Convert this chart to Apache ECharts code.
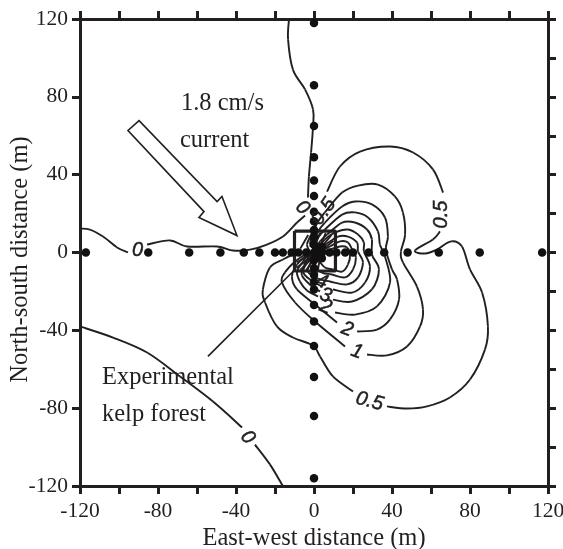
<!DOCTYPE html>
<html><head><meta charset="utf-8">
<style>html,body{margin:0;padding:0;background:#fff}#c{width:563px;height:549px}</style>
<script src="https://cdn.jsdelivr.net/npm/echarts@6/dist/echarts.min.js"></script>
</head><body><div id="c"></div>
<script>
const xTitle = 'East-west distance (m)';
const yTitle = 'North-south distance (m)';
const rowStations = [-117,-85,-64,-48,-36,-28,-20,-16,-11.5,-8,-4,0,4,8,11.5,16,20,28,36,48,64,85,117];
const colStations = [118,86,65,49,37,29,21,16,11.5,8,4,-4,-8,-11.5,-15,-19,-27,-35.5,-48,-64,-84,-116];
const coreStations = [[1,0],[4,0],[1,-3],[4,-3],[1,3],[4,3]];

const zeroA = [[-120,12.3],[-114.9,11.8],[-108.2,8.2],[-101,2.6],[-95.4,0]];
const zeroB = [[-85.6,4.1],[-73.8,6.2],[-65.1,3.1],[-49.7,3.1],[-41.5,1],[-32.8,1.5],[-24.1,4.1],[-15.9,8.2],[-8.7,15.4],[-4.6,19]];
const zeroC = [[-3.1,28.3],[-2.6,39.1],[-1.5,51.4],[-0.5,64.7],[-0.5,73.5],[-4.6,83.8],[-10.8,94],[-13.3,109.5],[-12.8,120]];
const zeroD = [[-120,-38],[-103.1,-43.7],[-85.6,-51.4],[-68.7,-63.7],[-51.8,-76.6],[-36.9,-89.9]];
const zeroE = [[-30.3,-98.7],[-22.6,-108.9],[-16,-120]];
const halfA = [[6.7,31.3],[13.3,44.2],[23.6,51.9],[39,54.5],[50.8,51.4],[61,42.7],[66.2,30.8]];
const halfB = [[64.6,10.8],[61,6.7],[51.8,1],[56.9,-0.5],[63,1.5],[70.3,5.7],[75.9,3.1],[80,-8.7],[86.2,-20.6],[89.2,-38],[87.7,-49.8],[80,-65.3],[69.7,-74.5],[57.9,-79.1],[47.7,-80.2],[37.4,-79.1]];
const halfC = [[20,-71.4],[9.7,-63.7],[3.1,-53.4],[-0.5,-47.8],[-10.8,-43.7],[-19,-38],[-25.1,-25.7],[-26.2,-19],[-22.6,-7.7],[-15.9,-3.6],[-9.7,-0.5],[-4.6,0]];
const halfD = [[0.5,14.4],[-1.5,9.2],[-3.6,4.1],[-2.1,0.5]];
const oneA = [[-2.1,4.1],[-1,9.2],[2.1,15.9],[5.6,20.6],[14.4,30.8],[22.6,34.4],[32.8,34.9],[41.5,28.8],[45.6,20.6],[46.7,9.2],[44.6,0.5],[45.6,-5.1],[52.8,-17.5],[55.9,-29.3],[54.4,-38],[47.7,-48.3],[37.4,-52.9],[27.2,-52.4]];
const oneB = [[15.9,-48.3],[0.5,-35.5],[-9.7,-25.7],[-16.4,-15.4],[-14.9,-10.3],[-9.7,-4.6],[-4.6,-1]];
const twoA = [[-0.5,4.1],[2.1,10.8],[5.6,15.4],[14.4,23.6],[21,26.2],[29.7,24.7],[36.4,18],[37.9,8.2],[36.9,1.5],[40,-8.7],[42.6,-13.9],[43.6,-24.2],[39,-34.4],[32.3,-39.6],[22.1,-40.6]];
const twoB = [[11.8,-36],[0.5,-26.7],[-8.7,-19],[-11.3,-12.3],[-8.7,-6.2],[-4.1,-1.5]];
const threeA = [[0,2.6],[2.1,7.7],[5.6,11.8],[14.4,19.5],[21,20.6],[27.7,18],[32.8,10.8],[33.8,4.1],[36.4,-2.1],[39,-15.4],[32.3,-27.7],[21,-31.9],[10.8,-30.8]];
const threeB = [[2.1,-22.6],[-3.6,-19.5],[-7.2,-14.9],[-8.7,-9.8],[-5.6,-4.6],[-3.1,-1.5]];
const fourA = [[0.5,1.5],[3.1,5.7],[6.7,9.2],[14.4,15.4],[21,15.4],[27.2,11.8],[29.7,6.7],[29.7,-1],[33.3,-8.7],[29.7,-19],[19.5,-25.2],[9.7,-24.2]];
const fourB = [[3.1,-20],[-1,-17.5],[-6.2,-11.8],[-5.1,-6.7],[-2.1,-1.5]];
const fiveA = [[1,1],[5.6,6.7],[10.8,10.3],[17.4,11.8],[22.6,9.2],[25.6,5.1],[25.6,0.5],[28.7,-7.2],[26.2,-15.4],[19.5,-20.6],[9.7,-19]];
const fiveB = [[4.1,-17.5],[-2.1,-13.9],[-5.6,-9.8],[-3.1,-4.6],[-1,-1.5]];
const six = [[1.5,0.5],[6.7,4.6],[12.3,8.2],[17.4,8.2],[22.1,5.1],[22.6,0.5],[25.1,-5.1],[22.6,-12.8],[16.9,-16.4],[8.2,-14.9],[2.1,-13.4],[-3.1,-9.8],[-1.5,-4.6],[-0.5,-1.5]];
const seven = [[2.1,0],[8.2,3.1],[13.3,5.7],[17.4,5.1],[20,0.5],[21.5,-2.6],[20,-8.7],[15.9,-12.8],[9.2,-11.3],[4.1,-10.3],[0,-6.7],[0,-1.5]];
const eight = [[2.6,0],[8.2,1.5],[13.3,3.1],[16.9,2.6],[18.5,-1],[17.4,-6.2],[14.4,-9.8],[9.7,-8.7],[5.6,-7.7],[2.1,-3.6]];
const fanA = [[-3,9],[-7,2]];
const fanB = [[0,10],[-2,3]];
const fanC = [[3,10],[0,2]];
const fanD = [[-9,-8],[0,-1]];
const fanE = [[-9,-5],[-1,-1]];
const fanF = [[-7,-9],[0,-2]];
const fanG = [[-4,-9],[1,-2]];
const fanH = [[-1,-9],[2,-2]];
const fanI = [[2,-9],[3,-3]];
const fanJ = [[6,10],[3,3]];
const fanK = [[9,9],[4,3]];
const fanL = [[10,6],[5,2]];
const contours = [zeroA,zeroB,zeroC,zeroD,zeroE,halfA,halfB,halfC,halfD,oneA,oneB,twoA,twoB,threeA,threeB,fourA,fourB,fiveA,fiveB,six,seven,eight,fanA,fanB,fanC,fanD,fanE,fanF,fanG,fanH,fanI,fanJ,fanK,fanL];

const contourLabels = [
  [-90.5,1,'0',0],[-6,23,'0',-45],[-34,-95,'0',-50],
  [5,21,'0.5',55],[65.5,19.5,'0.5',90],[28.5,-76.5,'0.5',-15],
  [22,-51,'1',-20],[17,-39.5,'2',-20],[6,-28,'2',-20],[6,-22,'3',-20],[4,-15,'4',-20]
];
const notes = [[-68.5,76.5,'1.8 cm/s'],[-69,57.5,'current'],[-109,-64.5,'Experimental'],[-109,-83.5,'kelp forest']];
const forestBox = [[-10,11],[11,11],[11,-9.5],[-10,-9.5],[-10,11]];
const leader = [[-54.4,-53.4],[-10,-9]];
const arrowShape = [[-89.7,67.8],[-95.4,62.7],[-56.4,21],[-59,18],[-39.5,8.7],[-47.2,28.8],[-49.7,26.2]];

const INK = '#231f20';
const serif = '"Liberation Serif","Times New Roman",serif';
function axis(extra){
  return Object.assign({type:'value',min:-120,max:120,interval:40,splitLine:{show:false},
    axisLine:{show:true,onZero:false,lineStyle:{color:INK,width:3}},
    axisTick:{show:true,length:8,lineStyle:{color:INK,width:3}},
    minorTick:{show:true,splitNumber:2,length:8,lineStyle:{color:INK,width:3}},
    minorSplitLine:{show:false},
    axisLabel:{show:false}},extra);
}
function contourSeries(c){
  return {type:'custom',data:c,encode:{x:0,y:1},silent:true,z:2,
    renderItem:(params,api)=>{
      const i=params.dataIndex;
      if(i>=c.length-1) return null;
      const p=j=>api.coord(c[Math.max(0,Math.min(c.length-1,j))]);
      const p0=p(i-1),p1=p(i),p2=p(i+1),p3=p(i+2);
      return {type:'bezierCurve',shape:{x1:p1[0],y1:p1[1],x2:p2[0],y2:p2[1],
        cpx1:p1[0]+(p2[0]-p0[0])/6,cpy1:p1[1]+(p2[1]-p0[1])/6,
        cpx2:p2[0]-(p3[0]-p1[0])/6,cpy2:p2[1]-(p3[1]-p1[1])/6},
        style:{fill:null,stroke:INK,lineWidth:1.9}};
    }};
}
const series = contours.map(contourSeries);
series.push({type:'line',data:forestBox,showSymbol:false,symbol:'none',z:4,lineStyle:{color:INK,width:3.2}});
series.push({type:'line',data:leader,showSymbol:false,symbol:'none',z:3,lineStyle:{color:INK,width:1.6}});
series.push({type:'scatter',data:rowStations.map(x=>[x,0]).concat(colStations.map(y=>[0,y]),coreStations),symbolSize:8.5,z:5,itemStyle:{color:'#111',opacity:1}});
series.push({type:'custom',z:3,data:[0],renderItem:(p,api)=>({type:'polygon',
  shape:{points:arrowShape.map(v=>api.coord(v))},
  style:{fill:'#fff',stroke:INK,lineWidth:1.6}})});
series.push({type:'scatter',symbolSize:1,z:6,itemStyle:{color:'rgba(0,0,0,0)',opacity:1},
  data:contourLabels.map(l=>({value:[l[0],l[1]],label:{show:true,position:'inside',formatter:l[2],rotate:l[3],opacity:1,
    fontFamily:'"Liberation Sans",Arial,sans-serif',fontStyle:'italic',fontSize:20,color:INK,
    textBorderColor:INK,textBorderWidth:0.5}}))});
series.push({type:'scatter',symbolSize:1,z:6,itemStyle:{color:'rgba(0,0,0,0)',opacity:1},
  data:notes.map(n=>({value:[n[0],n[1]],label:{show:true,opacity:1,color:INK,fontFamily:serif,fontSize:24.5,position:'right',distance:0,formatter:n[2]}}))});

const chart = echarts.init(document.getElementById('c'),null,{renderer:'canvas'});
chart.setOption({
  animation:false,backgroundColor:'#fff',
  grid:{left:80,right:15,top:19,bottom:63,containLabel:false,outerBoundsMode:'none'},
  xAxis:[
    axis({position:'bottom',name:xTitle,nameLocation:'middle',nameGap:40,nameMoveOverlap:false,
      nameTextStyle:{color:INK,fontFamily:serif,fontSize:24.5},
      axisLabel:{show:true,color:INK,fontFamily:serif,fontSize:21.5,margin:14,hideOverlap:false,showMinLabel:true,showMaxLabel:true}}),
    axis({position:'top'})
  ],
  yAxis:[
    axis({position:'left',name:yTitle,nameLocation:'middle',nameGap:47,nameMoveOverlap:false,
      nameTextStyle:{color:INK,fontFamily:serif,fontSize:24.5,padding:[0,14,0,0]},
      minorTick:{show:false},
      axisLabel:{show:true,color:INK,fontFamily:serif,fontSize:21.5,margin:12,hideOverlap:false,showMinLabel:true,showMaxLabel:true}}),
    axis({position:'right'})
  ],
  series
});
</script></body></html>
